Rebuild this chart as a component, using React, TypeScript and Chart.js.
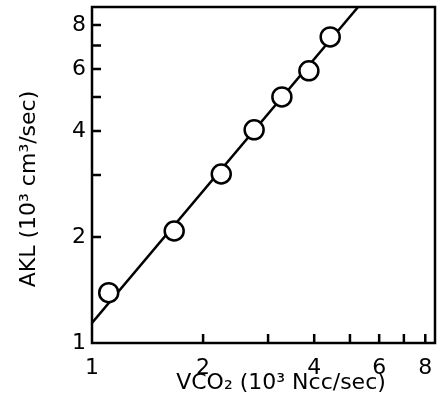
import React, { useEffect, useRef } from "react";
import { Chart, registerables } from "chart.js";

Chart.register(...registerables);

const xValues = [1.11, 1.67, 2.24, 2.75, 3.27, 3.87, 4.42];
const yValues = [1.39, 2.08, 3.02, 4.03, 5.0, 5.93, 7.4];
const fitX = [1.0, 5.26];
const fitY = [1.14, 9.0];
const tickValues = [1, 2, 3, 4, 5, 6, 7, 8];
const labeledTicks = [1, 2, 4, 6, 8];
const xTitle = "VCO₂ (10³ Ncc/sec)";
const yTitle = "AKL (10³ cm³/sec)";

const FONT = "'DejaVu Sans', sans-serif";

const framePlugin = {
  id: "frameAndInwardTicks",
  afterDatasetsDraw(chart: any) {
    const { ctx, chartArea, scales } = chart;
    const { left, right, top, bottom } = chartArea;
    ctx.save();
    ctx.strokeStyle = "#000";
    ctx.lineWidth = 2.5;
    ctx.strokeRect(left, top, right - left, bottom - top);
    ctx.beginPath();
    tickValues.forEach((v) => {
      if (v > 1) {
        const py = scales.y.getPixelForValue(v);
        ctx.moveTo(left, py);
        ctx.lineTo(left + 9, py);
        const px = scales.x.getPixelForValue(v);
        ctx.moveTo(px, bottom);
        ctx.lineTo(px, bottom - 9);
      }
    });
    ctx.stroke();
    ctx.restore();
  },
};

const zeroPad = (s: any) => {
  s.paddingTop = 0;
  s.paddingBottom = 0;
  s.paddingLeft = 0;
  s.paddingRight = 0;
};

export default function App() {
  const canvasRef = useRef<HTMLCanvasElement | null>(null);

  useEffect(() => {
    if (!canvasRef.current) return;
    const points = xValues.map((x, i) => ({ x, y: yValues[i] }));
    const fit = fitX.map((x, i) => ({ x, y: fitY[i] }));
    const tickCfg = {
      autoSkip: false,
      maxRotation: 0,
      color: "#000",
      font: { family: FONT, size: 22 },
      callback: (v: any) => (labeledTicks.includes(Number(v)) ? String(v) : ""),
    };
    const chart = new Chart(canvasRef.current, {
      type: "scatter",
      data: {
        datasets: [
          {
            data: points,
            showLine: false,
            pointRadius: 9.5,
            pointBorderWidth: 2.5,
            pointBackgroundColor: "#fff",
            pointBorderColor: "#000",
          },
          {
            data: fit,
            showLine: true,
            borderColor: "#000",
            borderWidth: 2.5,
            pointRadius: 0,
          },
        ],
      },
      options: {
        responsive: false,
        animation: false,
        layout: { autoPadding: false, padding: { left: 0, right: 3, top: 7, bottom: 0 } },
        plugins: { legend: { display: false }, tooltip: { enabled: false } },
        scales: {
          x: {
            type: "logarithmic",
            min: 1,
            max: 8.5,
            afterBuildTicks: (s: any) => {
              s.ticks = tickValues.map((v) => ({ value: v }));
            },
            afterFit: (s: any) => {
              s.height = 67;
              zeroPad(s);
            },
            grid: { display: false, drawTicks: false },
            border: { display: false },
            ticks: { ...tickCfg, padding: 12 },
            title: {
              display: true,
              text: "     " + xTitle,
              color: "#000",
              font: { family: FONT, size: 22 },
              padding: { top: 0, bottom: 14 },
            },
          },
          y: {
            type: "logarithmic",
            min: 1,
            max: 9,
            afterBuildTicks: (s: any) => {
              s.ticks = tickValues.map((v) => ({ value: v }));
            },
            afterFit: (s: any) => {
              s.width = 92;
              zeroPad(s);
            },
            grid: { display: false, drawTicks: false },
            border: { display: false },
            ticks: { ...tickCfg, padding: 6 },
            title: {
              display: true,
              text: yTitle + "    ",
              color: "#000",
              font: { family: FONT, size: 22 },
              padding: { top: 16, bottom: 0 },
            },
          },
        },
      },
      plugins: [framePlugin],
    });
    return () => chart.destroy();
  }, []);

  return (
    <div style={{ position: "absolute", left: 0, top: 0, width: 438, height: 410, background: "#fff" }}>
      <canvas ref={canvasRef} width={438} height={410} style={{ display: "block" }} />
    </div>
  );
}
